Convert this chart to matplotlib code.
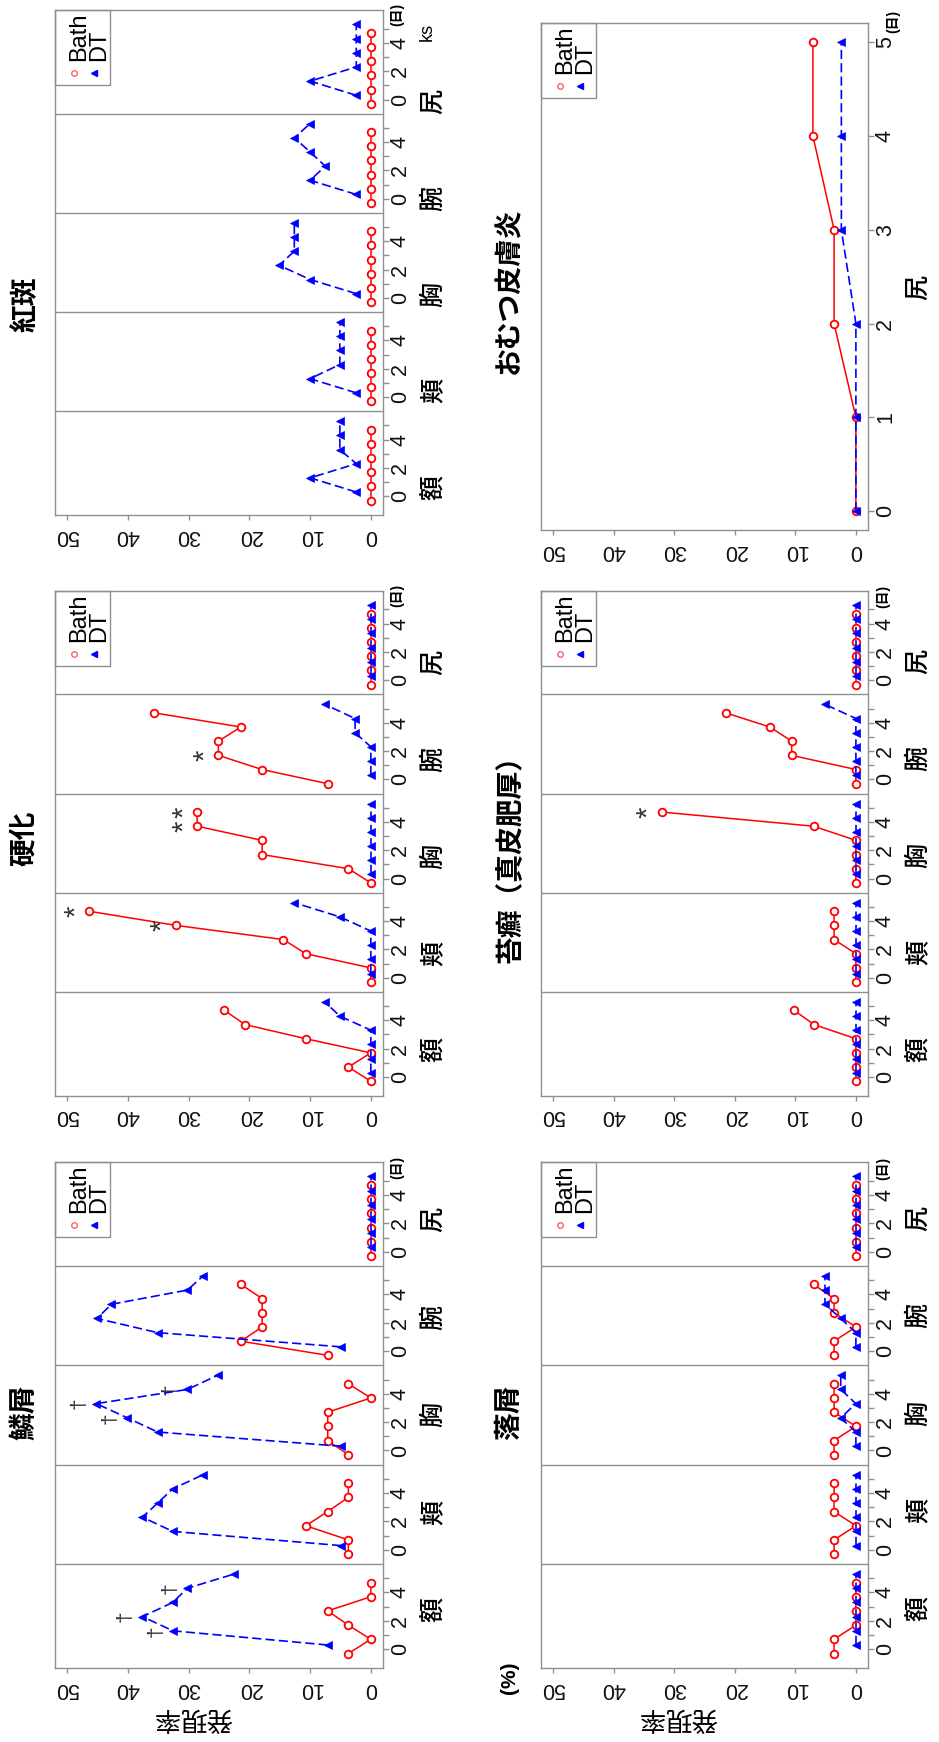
import matplotlib
matplotlib.use('Agg')
import matplotlib.pyplot as plt
from matplotlib.patches import Rectangle
from matplotlib.lines import Line2D

plt.rcParams['font.family'] = ['Liberation Sans', 'Noto Sans CJK JP', 'DejaVu Sans']
JP = ['Noto Sans CJK JP', 'DejaVu Sans']

# ---------------- data ----------------
sites = ['額', '頬', '胸', '腕', '尻']
days = [0, 1, 2, 3, 4, 5]
rate_ticks = [0, 10, 20, 30, 40, 50]
series_names = ['Bath', 'DT']

# 鱗屑
scale_bath = [[3.7, 0, 3.7, 7.1, 0, 0],
              [3.7, 3.7, 10.7, 7.1, 3.7, 3.7],
              [3.7, 7.1, 7.1, 7.1, 0, 3.7],
              [7.1, 21.4, 17.9, 17.9, 17.9, 21.4],
              [0, 0, 0, 0, 0, 0]]
scale_dt = [[7.1, 32.6, 37.6, 32.6, 30.2, 22.5],
            [4.9, 32.6, 37.6, 35.1, 32.6, 27.6],
            [4.9, 35.1, 40.1, 45.2, 30.2, 25.2],
            [4.9, 35.1, 45.1, 42.7, 30.2, 27.6],
            [0, 0, 0, 0, 0, 0]]
scale_marks = [(0, 1), (0, 2), (0, 4), (2, 2), (2, 3), (2, 4)]   # (site, day) '†' on DT

# 落屑
desq_bath = [[3.6, 3.6, 0, 0, 0, 0],
             [3.6, 3.6, 0, 3.6, 3.6, 3.6],
             [3.6, 3.6, 0, 3.6, 3.6, 3.6],
             [3.6, 3.6, 0, 3.6, 3.6, 7.0],
             [0, 0, 0, 0, 0, 0]]
desq_dt = [[0, 0, 0, 0, 0, 0],
           [0, 0, 0, 0, 0, 0],
           [0, 0, 2.5, 0, 2.5, 2.5],
           [0, 0, 2.5, 5.1, 5.1, 5.1],
           [0, 0, 0, 0, 0, 0]]

# 硬化
ind_bath = [[0, 3.7, 0, 10.7, 20.7, 24.1],
            [0, 0, 10.7, 14.4, 32.1, 46.4],
            [0, 3.7, 17.9, 17.9, 28.6, 28.6],
            [7.1, 17.9, 25.1, 25.1, 21.4, 35.7],
            [0, 0, 0, 0, 0, 0]]
ind_dt = [[0, 0, 0, 0, 5.1, 7.6],
          [0, 0, 0, 0, 5.1, 12.6],
          [0, 0, 0, 0, 0, 0],
          [0, 0, 0, 2.6, 2.6, 7.6],
          [0, 0, 0, 0, 0, 0]]
ind_marks = [(1, 4), (1, 5), (2, 4), (2, 5), (3, 2)]   # '*' on Bath

# 苔癬（真皮肥厚）
lich_bath = [[0, 0, 0, 0, 6.9, 10.2],
             [0, 0, 0, 3.6, 3.6, 3.6],
             [0, 0, 0, 0, 7.0, 32.1],
             [0, 0, 10.6, 10.6, 14.2, 21.5],
             [0, 0, 0, 0, 0, 0]]
lich_dt = [[0, 0, 0, 0, 0, 0],
           [0, 0, 0, 0, 0, 0],
           [0, 0, 0, 0, 0, 0],
           [0, 0, 0, 0, 0, 5.1],
           [0, 0, 0, 0, 0, 0]]
lich_marks = [(2, 5)]

# 紅斑
ery_bath = [[0, 0, 0, 0, 0, 0] for _ in range(5)]
ery_dt = [[2.4, 10.0, 2.4, 5.1, 5.1, 5.1],
          [2.4, 10.0, 5.1, 5.1, 5.1, 5.1],
          [2.4, 10.0, 15.1, 12.6, 12.6, 12.6],
          [2.4, 10.0, 7.5, 10.0, 12.6, 10.0],
          [2.4, 10.0, 2.4, 2.4, 2.4, 2.4]]

# おむつ皮膚炎 (尻)
diaper_days = [0, 1, 2, 3, 4, 5]
diaper_bath = [0, 0, 3.6, 3.6, 7.1, 7.1]
diaper_dt = [0, 0, 0, 2.4, 2.4, 2.4]

# ---------------- layout / style ----------------
W, H = 939, 1742
fig = plt.figure(figsize=(W / 100, H / 100), dpi=100)
GRAY = '#909090'
RED = '#ff0000'
BLUE = '#0000ff'
SITE_STEP = 7
BATH_OFF, DT_OFF = -0.3, 0.3


def fx(x):
    return x / W


def fy(y):
    return 1 - y / H


def make_axes(x0, y0, x1, y1):
    return fig.add_axes([x0 / W, 1 - y1 / H, (x1 - x0) / W, (y1 - y0) / H])


def style_axes(ax, ylim, yticks, ylabels):
    ax.set_xlim(52, -2)
    ax.set_ylim(*ylim)
    ax.set_xticks(rate_ticks)
    ax.set_xticklabels([str(v) for v in rate_ticks])
    ax.set_yticks(yticks)
    ax.set_yticklabels(ylabels)
    ax.yaxis.tick_right()
    ax.tick_params(axis='x', direction='out', length=3.6, width=1, color=GRAY,
                   labelsize=15.5, pad=3.3, labelrotation=180, labelcolor='#111111')
    ax.tick_params(axis='y', direction='out', length=4.5, width=1, color=GRAY,
                   labelsize=15.5, pad=0.5, labelrotation=90, labelcolor='#111111')
    for lbl in ax.get_yticklabels():
        lbl.set_va('center')
    for sp in ax.spines.values():
        sp.set_color(GRAY)
        sp.set_linewidth(1)


def draw_series(ax, vals, pos, kind):
    if kind == 'Bath':
        ax.plot(vals, pos, color=RED, lw=1.1, marker='o', ms=5.5, mfc='white',
                mec=RED, mew=1.3, zorder=3)
    else:
        ax.plot(vals, pos, color=BLUE, lw=1.2, ls=(0, (5.5, 2.5)), marker='<', ms=6.3,
                mfc=BLUE, mec=BLUE, mew=0.5, zorder=4)


def legend(x0, y0):
    fig.add_artist(Rectangle((fx(x0), fy(y0 + 75)), 55 / W, 75 / H,
                             transform=fig.transFigure, fill=False,
                             edgecolor=GRAY, lw=1, zorder=5))
    fig.text(fx(x0 + 30), fy(y0 + 51), series_names[0], rotation=90,
             rotation_mode='anchor', ha='left', va='baseline', fontsize=17, zorder=6)
    fig.text(fx(x0 + 50), fy(y0 + 51), series_names[1], rotation=90,
             rotation_mode='anchor', ha='left', va='baseline', fontsize=17, zorder=6)
    fig.add_artist(Line2D([fx(x0 + 19)], [fy(y0 + 63)], marker='o', ms=4,
                          mfc='white', mec='#ff6060', mew=1.0, ls='none',
                          transform=fig.transFigure, zorder=6))
    fig.add_artist(Line2D([fx(x0 + 39)], [fy(y0 + 63)], marker='<', ms=5,
                          mfc=BLUE, mec=BLUE, ls='none',
                          transform=fig.transFigure, zorder=6))


def site_panel(box, bath, dt, title, title_xy, cat_y0, cat_step, cat_x,
               day_label_xy, marks=None, mark_kind=None):
    x0, y0, x1, y1 = box
    ax = make_axes(x0, y0, x1, y1)
    for s in range(len(sites)):
        base = SITE_STEP * s
        draw_series(ax, bath[s], [base + d + BATH_OFF for d in days], 'Bath')
        draw_series(ax, dt[s], [base + d + DT_OFF for d in days], 'DT')
    for s in range(1, len(sites)):
        ax.axhline(SITE_STEP * s - 1, color=GRAY, lw=1, zorder=1)
    yt = [SITE_STEP * s + d for s in range(len(sites)) for d in days]
    yl = [str(d) if d % 2 == 0 else '' for s in range(len(sites)) for d in days]
    style_axes(ax, (-1.32, SITE_STEP * 4 + 5 + 1.32), yt, yl)
    if marks:
        for (s, d) in marks:
            if mark_kind == 'dagger':
                v = dt[s][d]
                ax.text(v + 2.8, SITE_STEP * s + d + DT_OFF, '†', rotation=90,
                        ha='center', va='center', fontsize=15, color='#333333')
            else:
                v = bath[s][d]
                ax.text(v + 2.2, SITE_STEP * s + d + BATH_OFF, '*', rotation=90,
                        ha='center', va='center', fontsize=21, color='#333333')
    for i, name in enumerate(sites):
        fig.text(fx(cat_x), fy(cat_y0 - cat_step * i), name, rotation=90,
                 ha='center', va='center', fontsize=18, fontweight='medium', family=JP)
    fig.text(fx(title_xy[0]), fy(title_xy[1]), title, rotation=90, ha='center',
             va='center', fontsize=20, fontweight='bold', family=JP)
    fig.text(fx(day_label_xy[0]), fy(day_label_xy[1]), '(日)', rotation=90,
             ha='center', va='center', fontsize=10, fontweight='bold')
    legend(x0, y0)
    return ax


LX0, LX1 = 55, 383
RX0, RX1 = 541, 868
B1 = (1162, 1668)
B2 = (590.7, 1095.7)
B3 = (10, 515)

# Band 1
ax1 = site_panel((LX0, B1[0], LX1, B1[1]), scale_bath, scale_dt, '鱗屑', (24, 1412),
                 1609.5, 97.4, 433, (397, B1[0] + 5), scale_marks, 'dagger')
ax2 = site_panel((RX0, B1[0], RX1, B1[1]), desq_bath, desq_dt, '落屑', (509, 1412),
                 1608, 97.4, 918, (883, B1[0] + 6))
# Band 2
ax3 = site_panel((LX0, B2[0], LX1, B2[1]), ind_bath, ind_dt, '硬化', (24, 838),
                 1050, 96.8, 433, (397, B2[0] + 5), ind_marks, 'star')
ax4 = site_panel((RX0, B2[0], RX1, B2[1]), lich_bath, lich_dt, '苔癬（真皮肥厚）', (511, 852),
                 1049, 96.8, 918, (883, B2[0] + 6), lich_marks, 'star')
# Band 3
ax5 = site_panel((LX0, B3[0], LX1, B3[1]), ery_bath, ery_dt, '紅斑', (26, 304),
                 487, 96.3, 433, (397, B3[0] + 4))

# おむつ皮膚炎
ax6 = make_axes(RX0, 23.3, RX1, 530)
draw_series(ax6, diaper_bath, diaper_days, 'Bath')
draw_series(ax6, diaper_dt, diaper_days, 'DT')
style_axes(ax6, (-0.2, 5.2), diaper_days, [str(d) for d in diaper_days])
fig.text(fx(918), fy(288), '尻', rotation=90, ha='center', va='center', fontsize=18,
         fontweight='medium', family=JP)
fig.text(fx(509), fy(291), 'おむつ皮膚炎', rotation=90, ha='center', va='center',
         fontsize=20, fontweight='bold', family=JP)
fig.text(fx(893), fy(21), '(日)', rotation=90, ha='center', va='center',
         fontsize=10, fontweight='bold')
legend(RX0, 23.3)

# misc labels
fig.text(fx(427), fy(32), 'ks', rotation=90, ha='center', va='center', fontsize=13)
fig.text(fx(193), fy(1718), '発現率', rotation=180, ha='center', va='center',
         fontsize=19, family=JP)
fig.text(fx(678), fy(1718), '発現率', rotation=180, ha='center', va='center',
         fontsize=19, family=JP)
fig.text(fx(509), fy(1678), '(%)', rotation=90, ha='center', va='center',
         fontsize=15, fontweight='bold')

fig.savefig('out.png', dpi=100)
